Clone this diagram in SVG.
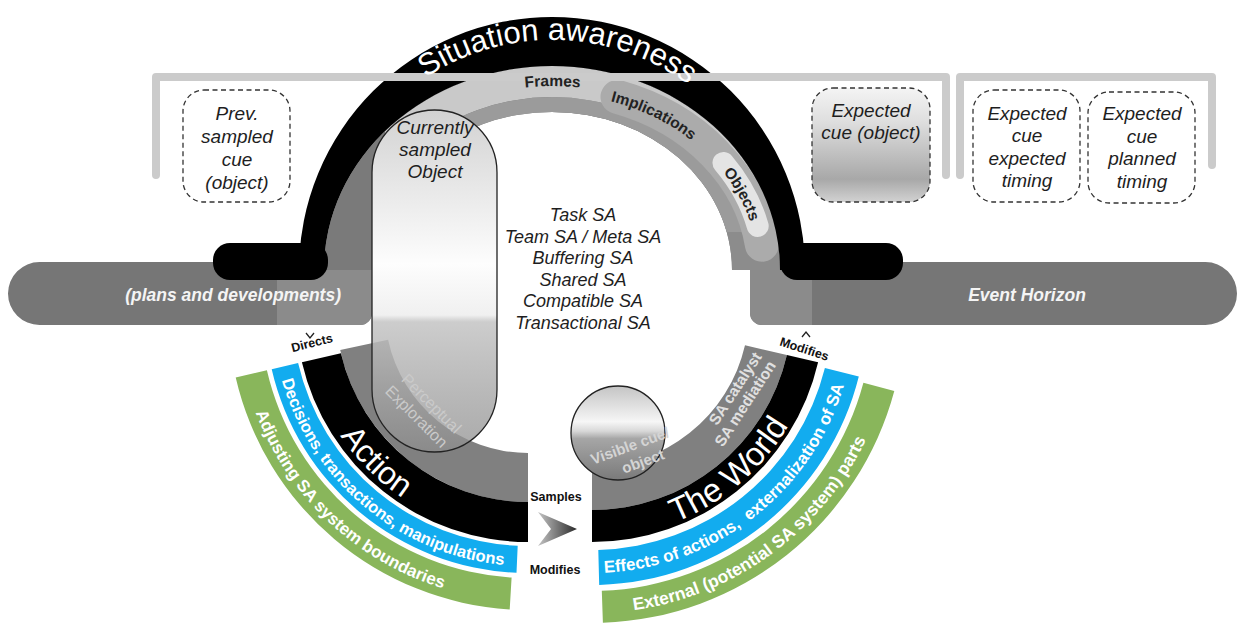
<svg xmlns="http://www.w3.org/2000/svg" width="1239" height="625" viewBox="0 0 1239 625">
<defs>
<style>
.it{font-family:"Liberation Sans",Arial,sans-serif;font-style:italic;font-size:19px;fill:#1e1e1e;text-anchor:middle}
.sa{font-family:"Liberation Sans",Arial,sans-serif;font-style:italic;font-size:18px;fill:#1e1e1e;text-anchor:middle}
.bw{font-family:"Liberation Sans",Arial,sans-serif;font-weight:bold;fill:#fff;text-anchor:middle}
.big{font-family:"Liberation Sans",Arial,sans-serif;fill:#fff;text-anchor:middle}
.lab{font-family:"Liberation Sans",Arial,sans-serif;font-weight:bold;font-size:12.5px;fill:#111;text-anchor:middle}
.arcl{font-family:"Liberation Sans",Arial,sans-serif;font-weight:bold;font-size:15.5px;fill:#222;text-anchor:middle}
.bartxt{font-family:"Liberation Sans",Arial,sans-serif;font-weight:bold;font-style:italic;font-size:17.5px;fill:#f4f4f4}
.fade{font-family:"Liberation Sans",Arial,sans-serif;text-anchor:middle}
.dash{stroke:#333;stroke-width:1.3;stroke-dasharray:5 3.5}
.brk{fill:none;stroke:#cbcbcb;stroke-width:8;stroke-linejoin:round;stroke-linecap:round}
.mark{fill:none;stroke:#222;stroke-width:1.3}
</style>
<linearGradient id="pillG" x1="0" y1="0" x2="0" y2="1">
<stop offset="0" stop-color="#d2d2d2"/>
<stop offset="0.45" stop-color="#fdfdfd"/>
<stop offset="0.6" stop-color="#f0f0f0"/>
<stop offset="0.62" stop-color="#c4c4c4" stop-opacity="0.85"/>
<stop offset="1" stop-color="#8e8e8e" stop-opacity="0.75"/>
</linearGradient>
<linearGradient id="circG" x1="0" y1="0" x2="0" y2="1">
<stop offset="0" stop-color="#c4c4c4"/>
<stop offset="0.38" stop-color="#f6f6f6"/>
<stop offset="0.48" stop-color="#d8d8d8"/>
<stop offset="0.56" stop-color="#a6a6a6"/>
<stop offset="1" stop-color="#7a7a7a"/>
</linearGradient>
<linearGradient id="boxG" x1="0" y1="0" x2="0" y2="1">
<stop offset="0" stop-color="#f4f4f4"/>
<stop offset="0.3" stop-color="#dedede"/>
<stop offset="0.8" stop-color="#a8a8a8"/>
<stop offset="1" stop-color="#d2d2d2"/>
</linearGradient>
<linearGradient id="chevG" x1="0" y1="0" x2="1" y2="0">
<stop offset="0" stop-color="#c4c4c4"/>
<stop offset="1" stop-color="#2a2a2a"/>
</linearGradient>
<clipPath id="frClip"><rect x="385" y="0" width="520" height="232"/></clipPath>
<clipPath id="rightHalf"><rect x="552" y="0" width="400" height="330"/></clipPath>
<path id="pSA" d="M352.8,155 A230,230 0 0,1 751.2,155"/>
<path id="pFr" d="M428.7,119.3 A215,184 0 0,1 690.2,129.1"/>
<path id="pIm" d="M570,94.7 A206,176 0 0,1 720.8,169"/>
<path id="pOb" d="M705.1,152.2 A206,176 0 0,1 757.2,254.7"/>
<path id="pAct" d="M307.8,360.8 A226,226 0 0,0 528,536"/>
<path id="pDec" d="M278.6,367.6 A256,256 0 0,0 516.8,565.8"/>
<path id="pAdj" d="M244.5,375.5 A291,291 0 0,0 510.2,600.5"/>
<path id="pWor" d="M592,538 A228,228 0 0,0 814.2,361.3"/>
<path id="pEff" d="M598.9,572.9 A263,263 0 0,0 847.2,373.6"/>
<path id="pExt" d="M602.6,612.8 A303,303 0 0,0 884.7,388.4"/>
</defs>
<rect width="1239" height="625" fill="#fff"/>

<g id="horizon-bars">
<path d="M39.5,262 H372 V313 A12,12 0 0,1 360,325 H39.5 A31.5,31.5 0 0,1 39.5,262 Z" fill="#767676"/>
<path d="M277,262 H372 V313 A12,12 0 0,1 360,325 H277 Z" fill="#8b8b8b"/>
<path d="M750,262 H1205.5 A31.5,31.5 0 0,1 1205.5,325 H762 A12,12 0 0,1 750,313 Z" fill="#767676"/>
<path d="M750,262 H812 V325 H762 A12,12 0 0,1 750,313 Z" fill="#8b8b8b"/>
<text class="bartxt" x="341" y="301" text-anchor="end">(plans and developments)</text>
<text class="bartxt" x="1027" y="301" text-anchor="middle">Event Horizon</text>
</g>

<g id="action-sector">
<path d="M340.2,349.9 A192,192 0 0,0 528,502 L528,453 A143,143 0 0,1 388.1,339.7 Z" fill="#808080"/>
<path d="M301.9,362.2 A232,232 0 0,0 528,542 L528,502 A192,192 0 0,1 340.9,353.2 Z" fill="#000"/>
<path d="M271.7,369.2 A263,263 0 0,0 516.5,572.8 L517.7,545.8 A236,236 0 0,1 298.1,363.1 Z" fill="#12acef"/>
<path d="M235.7,377.5 A300,300 0 0,0 509.7,609.4 L511.6,577.5 A268,268 0 0,1 266.9,370.3 Z" fill="#89b65b"/>
<text class="big" font-size="32"><textPath href="#pAct" startOffset="41.6%">Action</textPath></text>
<text class="bw" font-size="16.5"><textPath href="#pDec" startOffset="50%">Decisions, transactions, manipulations</textPath></text>
<text class="bw" font-size="17"><textPath href="#pAdj" startOffset="46%">Adjusting SA system boundaries</textPath></text>
</g>

<g id="world-sector">
<path d="M592,510 A200,200 0 0,0 786.9,355 L745,345.3 A157,157 0 0,1 592,467 Z" fill="#808080"/>
<path d="M592,542 A232,232 0 0,0 818.1,362.2 L786.9,355 A200,200 0 0,1 592,510 Z" fill="#000"/>
<path d="M599.2,584.9 A275,275 0 0,0 858.8,376.5 L824.9,368.1 A240,240 0 0,1 598.3,549.9 Z" fill="#12acef"/>
<path d="M602.9,622.8 A313,313 0 0,0 894.3,391 L863.4,382.7 A281,281 0 0,1 601.8,590.8 Z" fill="#89b65b"/>
<text class="big" font-size="33"><textPath href="#pWor" startOffset="52.6%">The World</textPath></text>
<text class="bw" font-size="17" xml:space="preserve"><textPath href="#pEff" startOffset="49%">Effects of actions,  externalization of SA</textPath></text>
<text class="bw" font-size="17.5"><textPath href="#pExt" startOffset="47%">External (potential SA system) parts</textPath></text>
<text class="fade" font-weight="bold" font-size="15.5" fill="#e0e0e0" transform="translate(740,396) rotate(-57)"><tspan x="3.6" y="-2.8">SA catalyst</tspan><tspan x="-3.6" y="13.8">SA mediation</tspan></text>
</g>

<g id="situation-awareness">
<path d="M324,270 A228,204 0 0,1 780,270 L732,270 A180,158 0 0,0 372,270 Z" fill="#7a7a7a"/>
<path d="M324,270 A228,204 0 0,1 780,270 L732,270 A180,158 0 0,0 372,270 Z" fill="#8c8c8c" clip-path="url(#rightHalf)"/>
<g clip-path="url(#frClip)">
<path d="M324,270 A228,204 0 0,1 780,270 L748,270 A196,173 0 0,0 356,270 Z" fill="#c9c9c9"/>
<path d="M356,270 A196,173 0 0,1 748,270 L732,270 A180,158 0 0,0 372,270 Z" fill="#9b9b9b"/>
</g>
<path d="M617.5,96.9 A212,182 0 0,1 761.9,244.7" fill="none" stroke="#ababab" stroke-width="34" stroke-linecap="round"/>
<path d="M723.5,163 A212,182 0 0,1 757.7,226" fill="none" stroke="#e4e4e4" stroke-width="22" stroke-linecap="round"/>
<path d="M299,270 A253,253 0 0,1 805,270 L780,270 A228,204 0 0,0 324,270 Z" fill="#000"/>
<rect x="213" y="243" width="115" height="37" rx="17" fill="#000"/>
<rect x="780" y="243" width="123" height="37" rx="17" fill="#000"/>
</g>

<g id="brackets">
<path class="brk" d="M156,175 V77 H946 V175"/>
<path class="brk" d="M960,175 V77 H1212 V165"/>
</g>

<g id="arch-labels">
<text class="big" font-size="31"><textPath href="#pSA" startOffset="51.25%">Situation awareness</textPath></text>
<text class="arcl"><textPath href="#pFr" startOffset="47%">Frames</textPath></text>
<text class="arcl"><textPath href="#pIm" startOffset="50%">Implications</textPath></text>
<text class="arcl"><textPath href="#pOb" startOffset="47%">Objects</textPath></text>
</g>

<g id="currently-sampled-object">
<rect x="372" y="110" width="125" height="342" rx="62.5" fill="url(#pillG)" stroke="#222" stroke-width="1.3"/>
<text class="it"><tspan x="435" y="134">Currently</tspan><tspan x="435" y="156">sampled</tspan><tspan x="435" y="178">Object</tspan></text>
<text class="fade" font-size="16" fill="#cacaca" transform="translate(424,410) rotate(45)"><tspan x="0.7" y="-4.4">Perceptual</tspan><tspan x="-0.7" y="15.4">Exploration</tspan></text>
</g>

<g id="visible-cue">
<circle cx="618" cy="433" r="47" fill="url(#circG)" stroke="#222" stroke-width="1.3"/>
<text class="fade" font-weight="bold" font-size="15" fill="#d4d4d4" transform="translate(630,446) rotate(-20)"><tspan x="0" y="5">Visible cue/</tspan><tspan x="7" y="24">object</tspan></text>
</g>

<g id="sa-types">
<text class="sa"><tspan x="583" y="221">Task SA</tspan><tspan x="583" y="243">Team SA / Meta SA</tspan><tspan x="583" y="264">Buffering SA</tspan><tspan x="583" y="286">Shared SA</tspan><tspan x="583" y="307">Compatible SA</tspan><tspan x="583" y="329">Transactional SA</tspan></text>
</g>

<g id="prev-cue">
<rect class="dash" x="183" y="90" width="107" height="112" rx="21" fill="#fff"/>
<text class="it"><tspan x="237" y="120">Prev.</tspan><tspan x="237" y="143">sampled</tspan><tspan x="237" y="166">cue</tspan><tspan x="237" y="189">(object)</tspan></text>
</g>
<g id="expected-cue">
<rect class="dash" x="812" y="88" width="118" height="114" rx="21" fill="url(#boxG)"/>
<text class="it"><tspan x="871" y="117">Expected</tspan><tspan x="871" y="139">cue (object)</tspan></text>
</g>
<g id="expected-timing">
<rect class="dash" x="973" y="90" width="107" height="112" rx="21" fill="#fff"/>
<text class="it"><tspan x="1027" y="120">Expected</tspan><tspan x="1027" y="142">cue</tspan><tspan x="1027" y="165">expected</tspan><tspan x="1027" y="187">timing</tspan></text>
</g>
<g id="planned-timing">
<rect class="dash" x="1088" y="92" width="107" height="111" rx="21" fill="#fff"/>
<text class="it"><tspan x="1142" y="120">Expected</tspan><tspan x="1142" y="143">cue</tspan><tspan x="1142" y="165">planned</tspan><tspan x="1142" y="188">timing</tspan></text>
</g>

<g id="connectors">
<polyline class="mark" points="306,333 310,338 314,333"/>
<text class="lab" transform="translate(313,347) rotate(-14)">Directs</text>
<polyline class="mark" points="802,337 806,332 810,337"/>
<text class="lab" transform="translate(803,353) rotate(18)">Modifies</text>
<text class="lab" x="556" y="501">Samples</text>
<polygon points="538,512 577,529 538,546 551,529" fill="url(#chevG)"/>
<text class="lab" x="555" y="574">Modifies</text>
</g>
</svg>
